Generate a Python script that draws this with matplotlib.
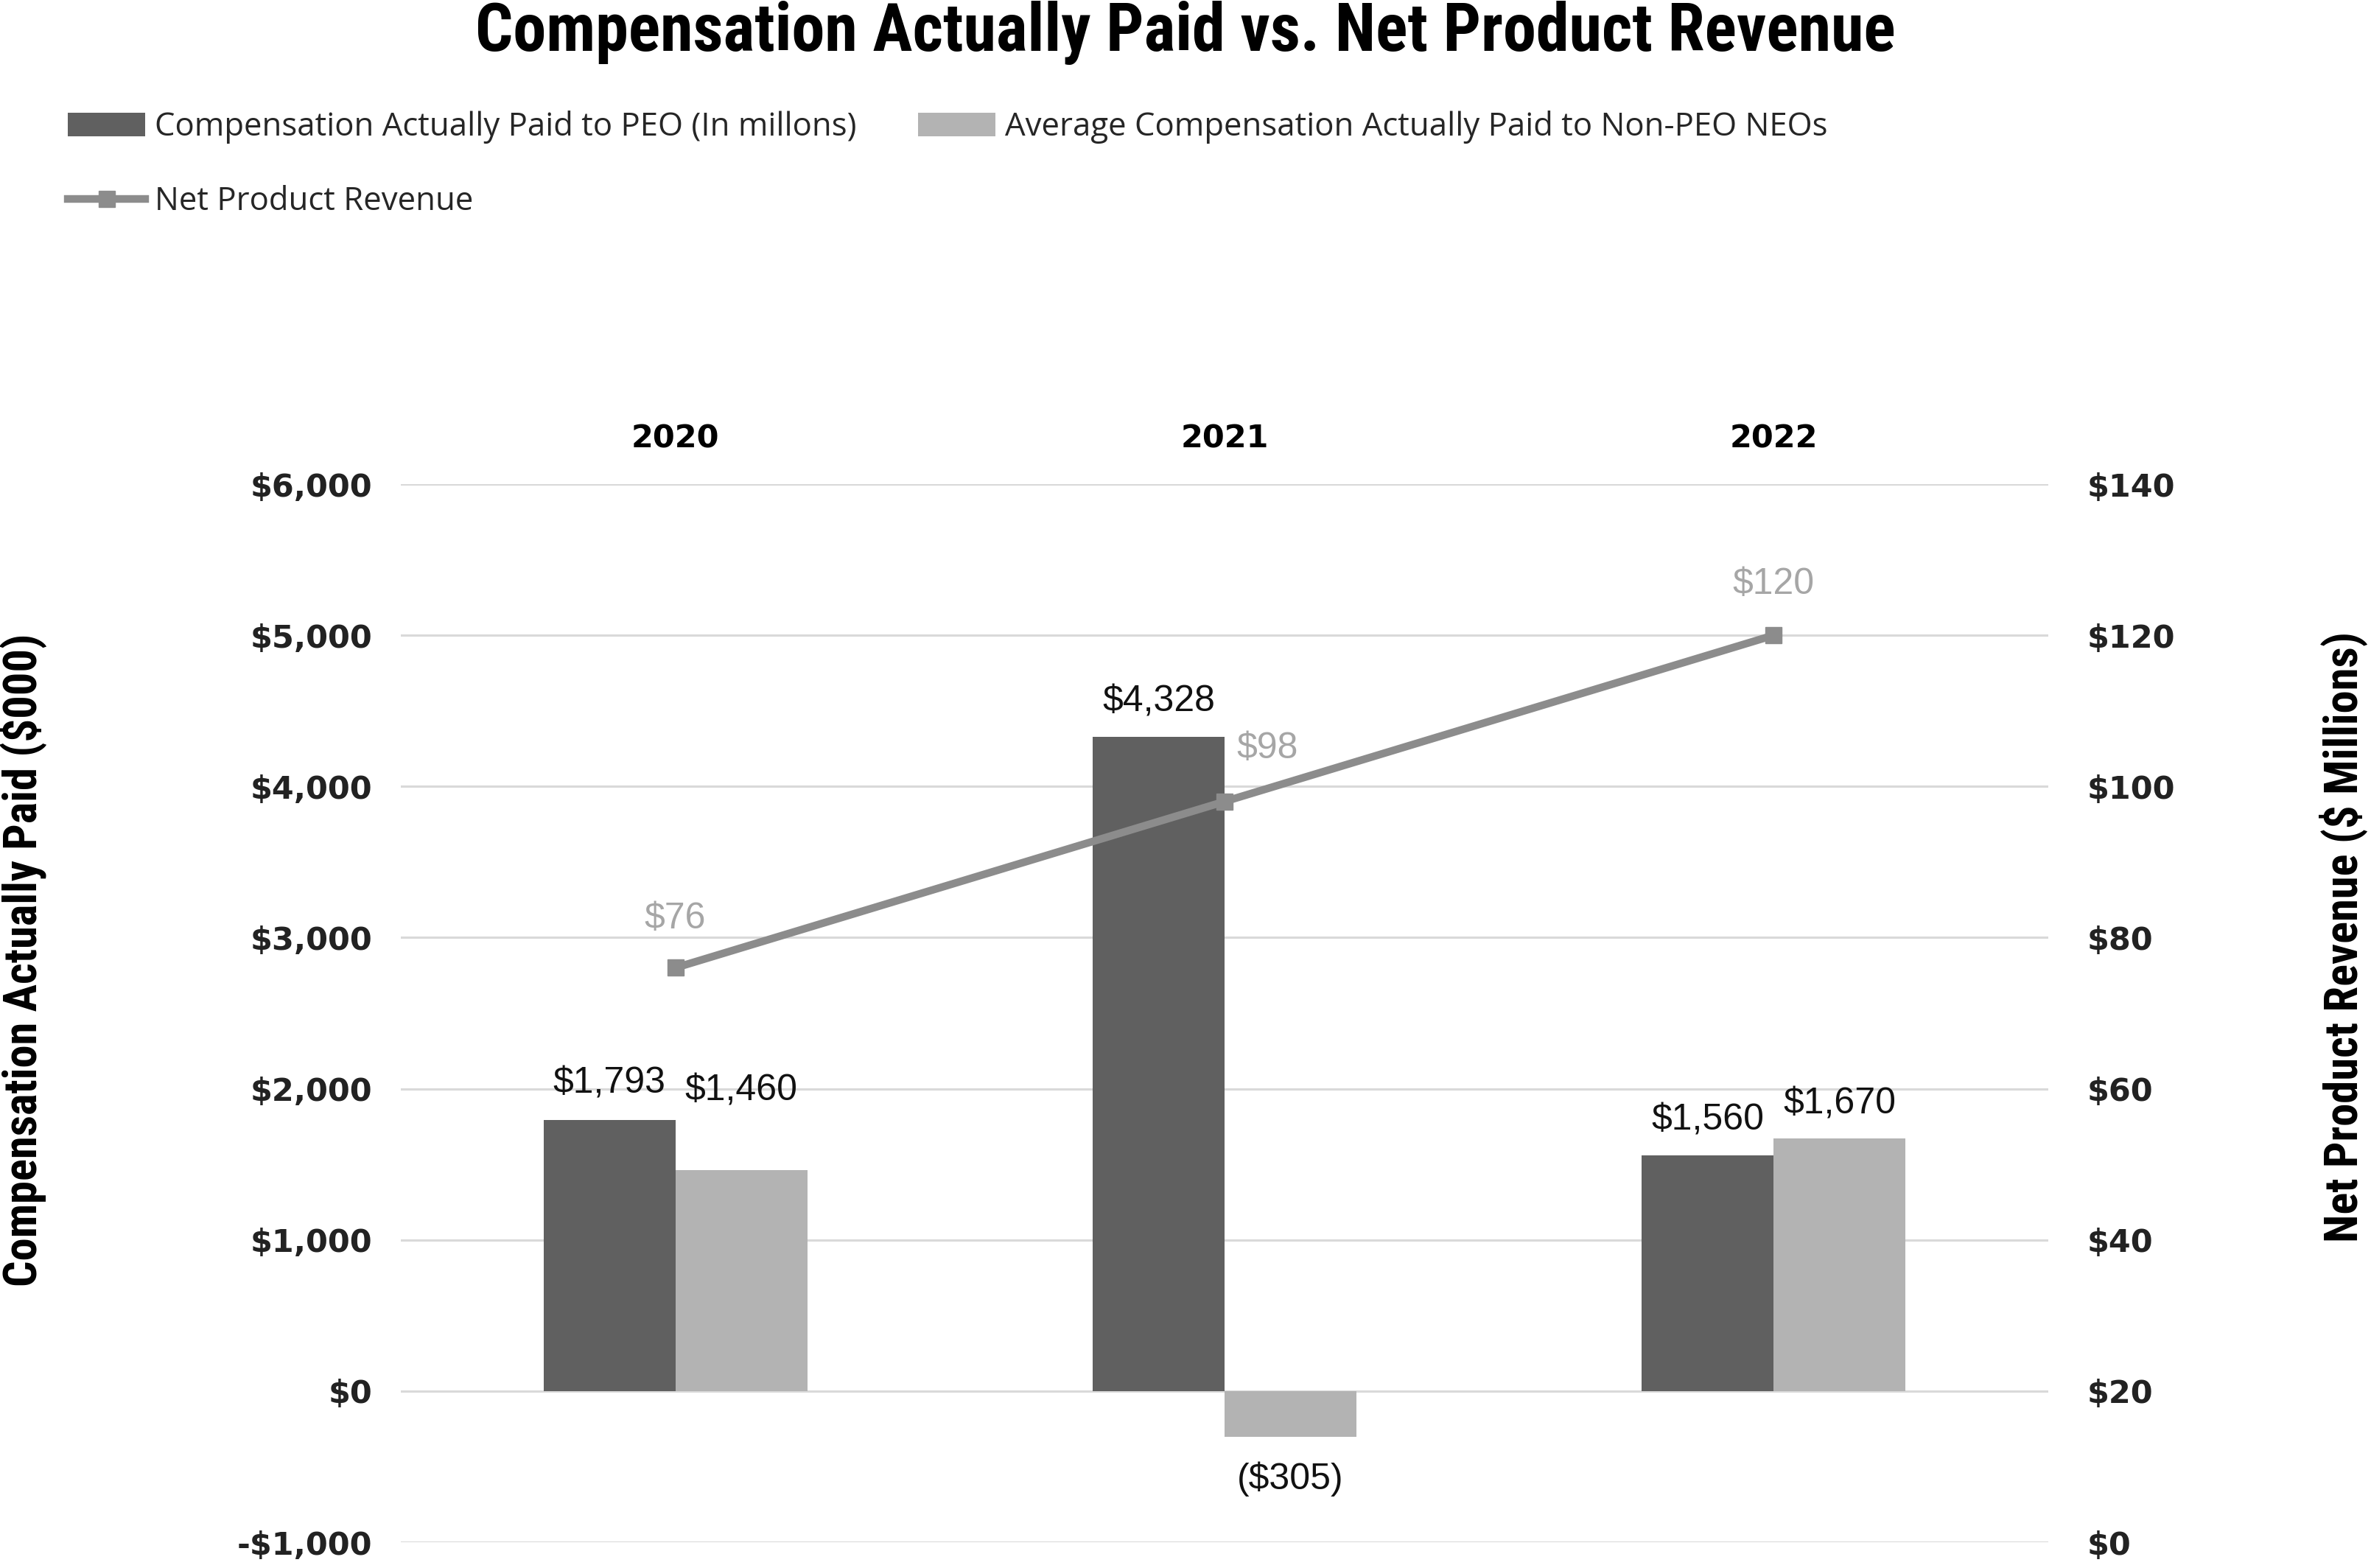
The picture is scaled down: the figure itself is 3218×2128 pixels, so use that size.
import matplotlib
matplotlib.use('Agg')
import matplotlib.pyplot as plt
from matplotlib import font_manager
import numpy as np

# chart values
years = ['2020', '2021', '2022']
peo_cap = [1793, 4328, 1560]
neo_cap = [1460, -305, 1670]
revenue = [76, 98, 120]
peo_labels = ['$1,793', '$4,328', '$1,560']
neo_labels = ['$1,460', '($305)', '$1,670']
rev_labels = ['$76', '$98', '$120']
left_ticks = [-1000, 0, 1000, 2000, 3000, 4000, 5000, 6000]
left_tick_labels = ['-$1,000', '$0', '$1,000', '$2,000', '$3,000', '$4,000', '$5,000', '$6,000']
right_ticks = [0, 20, 40, 60, 80, 100, 120, 140]
right_tick_labels = ['$0', '$20', '$40', '$60', '$80', '$100', '$120', '$140']


def pick_font(names):
    for n in names:
        try:
            font_manager.findfont(font_manager.FontProperties(family=n), fallback_to_default=False)
            return n
        except ValueError:
            continue
    return 'DejaVu Sans'


narrow = pick_font(['Liberation Sans Narrow', 'Arial Narrow', 'Roboto Condensed', 'Liberation Sans'])
legend_font = pick_font(['Open Sans', 'Noto Sans', 'DejaVu Sans'])
label_font = pick_font(['Liberation Sans', 'DejaVu Sans'])

W, H = 3218, 2128
fig = plt.figure(figsize=(W / 100, H / 100), dpi=100)
ax = fig.add_axes([544 / W, 1 - 2093 / H, (2780 - 544) / W, (2093 - 657) / H])

dark = '#606060'
light = '#b3b3b3'
line_c = '#8c8c8c'

x = np.arange(len(years))
bw = 0.24
b1 = ax.bar(x - bw / 2, peo_cap, bw, color=dark, zorder=2)
b2 = ax.bar(x + bw / 2, neo_cap, bw, color=light, zorder=2)

ax.set_xlim(-0.5, 2.5)
ax.set_ylim(-1000, 6000)
ax.set_yticks(left_ticks, left_tick_labels)
ax.grid(axis='y', color='#d9d9d9', lw=2.2, zorder=0)
ax.set_axisbelow(True)
ax.xaxis.tick_top()
ax.set_xticks(x, years)
ax.tick_params(axis='x', length=0, pad=29, labelsize=31)
ax.tick_params(axis='y', length=0, pad=28, labelsize=31, labelcolor='#222222')
for t in ax.get_xticklabels() + ax.get_yticklabels():
    t.set_fontweight('bold')
    t.set_family('DejaVu Sans')
for s in ax.spines.values():
    s.set_visible(False)

# bar value labels
peo_off = [36, 34, 34]
neo_off = [78, -41, 34]
for i in range(len(years)):
    ax.annotate(peo_labels[i], (x[i] - bw / 2, peo_cap[i]), textcoords='offset points',
                xytext=(0, peo_off[i]), ha='center', va='center', fontsize=36,
                family=label_font, color='#111111')
    ax.annotate(neo_labels[i], (x[i] + bw / 2, neo_cap[i]), textcoords='offset points',
                xytext=(0, neo_off[i]), ha='center', va='center', fontsize=36,
                family=label_font, color='#111111')

ax2 = ax.twinx()
ax2.set_ylim(0, 140)
ax2.set_yticks(right_ticks, right_tick_labels)
ax2.tick_params(axis='y', length=0, pad=38, labelsize=31, labelcolor='#222222')
for t in ax2.get_yticklabels():
    t.set_fontweight('bold')
    t.set_family('DejaVu Sans')
for s in ax2.spines.values():
    s.set_visible(False)
ln, = ax2.plot(x, revenue, color=line_c, lw=7.5, marker='s', markersize=16, zorder=3)

rev_off = [(0, 48), (42, 52), (0, 50)]
for i in range(len(years)):
    ax2.annotate(rev_labels[i], (x[i], revenue[i]), textcoords='offset points',
                 xytext=rev_off[i], ha='center', va='center', fontsize=36,
                 family=label_font, color='#a6a6a6')

fig.legend(handles=[b1, ln, b2],
           labels=['Compensation Actually Paid to PEO (In millons)', 'Net Product Revenue',
                   'Average Compensation Actually Paid to Non-PEO NEOs'],
           ncol=2, loc='upper left', bbox_to_anchor=(92 / W, 1 - 150 / H), frameon=False,
           prop={'family': legend_font, 'size': 31.5}, labelcolor='#262626',
           handlelength=2.4, handleheight=0.75, handletextpad=0.3, columnspacing=1.9,
           labelspacing=1.3, borderpad=0, borderaxespad=0)

fig.text(0.5, 1 - 45 / H, 'Compensation Actually Paid vs. Net Product Revenue',
         ha='center', va='center', fontsize=65, fontweight='bold', family=narrow)
fig.text(31 / W, 1 - 1303 / H, 'Compensation Actually Paid ($000)', rotation=90,
         ha='center', va='center', fontsize=45, fontweight='bold', family=narrow)
fig.text(3181 / W, 1 - 1272 / H, 'Net Product Revenue ($ Millions)', rotation=90,
         ha='center', va='center', fontsize=45, fontweight='bold', family=narrow)

fig.savefig('out.png', dpi=100, facecolor='white')
